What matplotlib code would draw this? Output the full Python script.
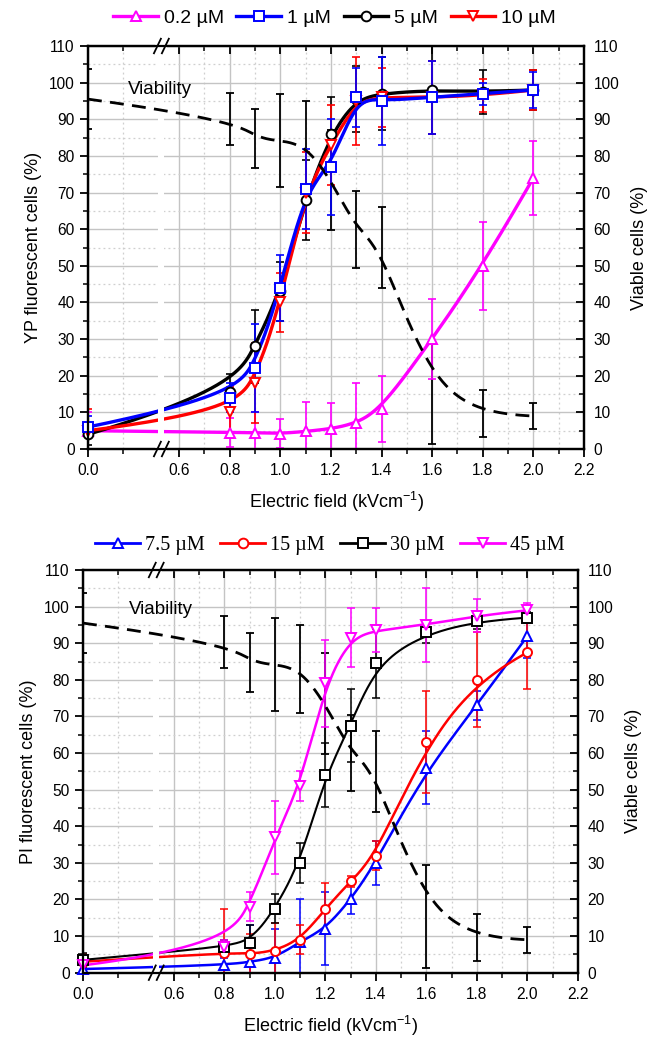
import numpy as np
import matplotlib
matplotlib.use("Agg")
import matplotlib.pyplot as plt
import matplotlib.lines as mlines
from matplotlib.ticker import FixedLocator, FixedFormatter

plt.rcParams['font.family'] = ['Liberation Sans', 'DejaVu Sans']
plt.rcParams['mathtext.default'] = 'regular'

# ---------------- data ----------------
field = [0.0, 0.8, 0.9, 1.0, 1.1, 1.2, 1.3, 1.4, 1.6, 1.8, 2.0]

# viability (same in both panels): mean and error-bar half widths
viab_mean = [95.5, 90.2, 84.8, 84.2, 82.9, 73.5, 60.0, 55.0, 15.4, 9.6, 9.0]
viab_err = [8.1, 7.1, 8.0, 12.6, 12.0, 13.7, 10.5, 11.0, 14.1, 6.4, 3.6]

# top panel: YP
yp_labels = ['0.2 µM', '1 µM', '5 µM', '10 µM']
yp_02 = [5.0, 4.5, 4.5, 4.2, 4.8, 5.5, 7.0, 11.0, 30.0, 50.0, 74.0]
yp_02_err = [5.0, 4.0, 5.5, 4.0, 8.0, 7.0, 11.0, 9.0, 11.0, 12.0, 10.0]
yp_1 = [6.0, 14.0, 22.0, 44.0, 71.0, 77.0, 96.0, 95.0, 96.0, 97.0, 98.0]
yp_1_err = [3.0, 4.0, 12.0, 9.0, 11.0, 13.0, 8.0, 12.0, 10.0, 3.0, 5.0]
yp_5 = [4.0, 15.5, 28.0, 43.0, 68.0, 86.0, 95.5, 97.0, 98.0, 97.5, 98.0]
yp_5_err = [3.0, 5.0, 10.0, 8.0, 11.0, 10.0, 9.0, 10.0, 12.0, 6.0, 5.5]
yp_10 = [5.0, 10.0, 18.0, 40.0, 70.0, 83.0, 95.0, 96.0, 96.0, 96.5, 98.0]
yp_10_err = [6.0, 7.0, 11.0, 8.0, 11.0, 11.0, 12.0, 8.0, 10.0, 4.5, 5.5]

# bottom panel: PI
pi_labels = ['7.5 µM', '15 µM', '30 µM', '45 µM']
pi_75 = [1.0, 2.0, 3.0, 4.0, 8.5, 12.0, 20.0, 30.0, 56.0, 73.0, 92.0]
pi_75_err = [3.0, 2.0, 10.0, 8.0, 11.5, 10.0, 4.0, 6.0, 10.0, 4.0, 6.0]
pi_15 = [3.0, 5.5, 5.0, 6.0, 9.0, 17.5, 25.0, 32.0, 63.0, 80.0, 87.5]
pi_15_err = [2.0, 12.0, 5.5, 7.5, 4.0, 7.0, 1.5, 4.0, 14.0, 13.0, 10.0]
pi_30 = [3.5, 7.0, 8.0, 17.5, 30.0, 54.0, 67.5, 84.5, 93.0, 96.0, 97.0]
pi_30_err = [2.0, 2.0, 5.0, 4.0, 5.5, 8.7, 10.0, 9.5, 3.0, 2.0, 1.5]
pi_45 = [2.0, 7.0, 18.0, 37.0, 51.0, 79.0, 91.5, 93.5, 95.0, 97.5, 99.0]
pi_45_err = [2.0, 2.0, 4.0, 10.0, 4.0, 12.0, 8.0, 6.0, 10.0, 4.5, 2.0]

major_x = [0.0, 0.6, 0.8, 1.0, 1.2, 1.4, 1.6, 1.8, 2.0, 2.2]
major_x_labels = ['0.0', '0.6', '0.8', '1.0', '1.2', '1.4', '1.6', '1.8', '2.0', '2.2']
minor_x = [0.1, 0.7, 0.9, 1.1, 1.3, 1.5, 1.7, 1.9, 2.1]

# ---------------- broken x scale ----------------
BK_X = [-1.0, 0.0, 0.2, 0.55, 3.0]
BK_U = [0.24 - 1.39, 0.24, 0.518, 0.55, 3.0]
U_MIN, U_MAX, U_BREAK = 0.24, 2.2, 0.53


def fwd(x):
    return np.interp(x, BK_X, BK_U)


def inv(u):
    return np.interp(u, BK_U, BK_X)


def bspline(px, py, n=600, k=3):
    """Clamped uniform cubic B-spline (Origin style connecting line)."""
    P = np.column_stack([px, py])
    m = len(P)
    knots = np.concatenate([[0.0] * k, np.linspace(0, 1, m - k + 1), [1.0] * k])
    t = np.linspace(0, 1, n)
    nk = len(knots)
    N = np.zeros((n, nk - 1))
    for i in range(nk - 1):
        N[:, i] = (knots[i] <= t) & (t < knots[i + 1])
    last = np.max(np.nonzero(knots[:-1] < knots[1:])[0])
    N[t >= knots[-1], last] = 1.0
    for d in range(1, k + 1):
        Nn = np.zeros((n, nk - 1 - d))
        for i in range(nk - 1 - d):
            a = knots[i + d] - knots[i]
            b = knots[i + d + 1] - knots[i + 1]
            term = np.zeros(n)
            if a > 0:
                term += (t - knots[i]) / a * N[:, i]
            if b > 0:
                term += (knots[i + d + 1] - t) / b * N[:, i + 1]
            Nn[:, i] = term
        N = Nn
    C = N @ P
    return C[:, 0], C[:, 1]


def smooth_line(ax, x, y, **kw):
    u = fwd(np.asarray(x, float))
    cu, cy = bspline(u, np.asarray(y, float))
    return ax.plot(inv(cu), cy, **kw)


TICK_FS = 11.2
LABEL_FS = 13


def setup(ax, ylabel):
    ax.set_xscale('function', functions=(fwd, inv))
    ax.set_xlim(0.0, 2.2)
    ax.set_ylim(0, 110)
    ax.xaxis.set_major_locator(FixedLocator(major_x))
    ax.xaxis.set_major_formatter(FixedFormatter(major_x_labels))
    ax.xaxis.set_minor_locator(FixedLocator(minor_x))
    ax.set_yticks(np.arange(0, 111, 10))
    ax.set_yticks(np.arange(5, 110, 10), minor=True)
    ax.grid(which='major', color='#c4c4c4', lw=1.0, zorder=0)
    ax.grid(which='minor', color='#cfcfcf', lw=0.9, ls=(0, (1.5, 2.5)), zorder=0)
    ax.set_axisbelow(True)
    ax.tick_params(axis='both', which='major', length=6, width=1.3, labelsize=TICK_FS)
    ax.tick_params(axis='both', which='minor', length=3.5, width=1.1)
    ax.tick_params(axis='x', which='both', direction='out', top=True, pad=4)
    ax.tick_params(axis='y', which='both', direction='out', right=False, pad=3.5)
    for t in ax.xaxis.get_major_ticks() + ax.xaxis.get_minor_ticks():
        t.tick2line.set_marker(mlines.TICKDOWN)
    for s in ax.spines.values():
        s.set_linewidth(1.6)
    ax.set_ylabel(ylabel, fontsize=LABEL_FS, labelpad=5)
    ax.set_xlabel('Electric field (kVcm$^{-1}$)', fontsize=LABEL_FS, labelpad=9)
    ax2 = ax.twinx()
    ax2.set_ylim(0, 110)
    ax2.set_yticks(np.arange(0, 111, 10))
    ax2.set_yticks(np.arange(5, 110, 10), minor=True)
    ax2.tick_params(axis='y', which='major', direction='in', length=6, width=1.3,
                    labelsize=TICK_FS, pad=7)
    ax2.tick_params(axis='y', which='minor', direction='in', length=3.5, width=1.1)
    ax2.set_ylabel('Viable cells (%)', fontsize=LABEL_FS, labelpad=8)
    for s in ax2.spines.values():
        s.set_linewidth(1.6)
    # break marks
    xb = (U_BREAK - U_MIN) / (U_MAX - U_MIN)
    ax.axvspan(inv(U_BREAK - 0.012), inv(U_BREAK + 0.012), color='white', lw=0, zorder=3.6)
    for yb in (0.0, 1.0):
        ax.plot([xb - 0.012, xb + 0.012], [yb, yb], transform=ax.transAxes, color='white',
                lw=3, clip_on=False, zorder=10, solid_capstyle='butt')
        for dx in (-0.008, 0.008):
            ax.plot([xb + dx - 0.007, xb + dx + 0.007], [yb - 0.018, yb + 0.018],
                    transform=ax.transAxes, color='black', lw=1.3, clip_on=False, zorder=11)
    # viability
    ax.errorbar(field, viab_mean, yerr=viab_err, fmt='none', ecolor='black', elinewidth=1.3,
                capsize=2.8, capthick=1.3, zorder=2)
    smooth_line(ax, field, viab_mean, color='black', lw=2.0, ls=(0, (5, 3)), zorder=3.7)
    return ax2


def draw_series(ax, y, err, color, marker, lw, ms, elw):
    ax.errorbar(field, y, yerr=err, fmt='none', ecolor=color, elinewidth=elw,
                capsize=2.8, capthick=elw, zorder=3)
    smooth_line(ax, field, y, color=color, lw=lw, zorder=3.2)
    ax.plot(field, y, ls='none', marker=marker, ms=ms, mfc='white', mec=color, mew=1.4,
            zorder=4, clip_on=False)


fig = plt.figure(figsize=(6.56, 10.39), dpi=100)
ax_t = fig.add_axes([88 / 656, 1 - 449 / 1039, 496 / 656, 403 / 1039])
ax_b = fig.add_axes([83 / 656, 1 - 972.7 / 1039, 495 / 656, 402.7 / 1039])

setup(ax_t, 'YP fluorescent cells (%)')
setup(ax_b, 'PI fluorescent cells (%)')

ax_t.text(0.081, 0.892, 'Viability', transform=ax_t.transAxes, fontsize=13.5, va='center', zorder=6)
ax_b.text(0.093, 0.903, 'Viability', transform=ax_b.transAxes, fontsize=13.5, va='center', zorder=6)

# top series
top_specs = [(yp_02, yp_02_err, '#ff00ff', '^'), (yp_5, yp_5_err, 'black', 'o'),
             (yp_10, yp_10_err, '#ff0000', 'v'), (yp_1, yp_1_err, '#0000ff', 's')]
for y, e, c, m in top_specs:
    draw_series(ax_t, y, e, c, m, lw=2.4, ms=7, elw=1.2)

bot_specs = [(pi_75, pi_75_err, '#0000ff', '^'), (pi_15, pi_15_err, '#ff0000', 'o'),
             (pi_30, pi_30_err, 'black', 's'), (pi_45, pi_45_err, '#ff00ff', 'v')]
for y, e, c, m in bot_specs:
    draw_series(ax_b, y, e, c, m, lw=1.8 if c != 'black' else 1.5, ms=6.5, elw=1.1)


# legends
def handle(color, marker, lw):
    return mlines.Line2D([], [], color=color, lw=lw, marker=marker, ms=7, mfc='white',
                         mec=color, mew=1.4)


top_h = [handle('#ff00ff', '^', 2.4), handle('#0000ff', 's', 2.4),
         handle('black', 'o', 2.4), handle('#ff0000', 'v', 2.4)]
fig.legend(top_h, yp_labels, loc='center', bbox_to_anchor=(0.51, 1 - 18 / 1039), ncol=4,
           frameon=False, fontsize=14, handlelength=2.3, handletextpad=0.3,
           columnspacing=0.65, borderaxespad=0, borderpad=0)

bot_h = [handle('#0000ff', '^', 2.0), handle('#ff0000', 'o', 2.0),
         handle('black', 's', 2.0), handle('#ff00ff', 'v', 2.0)]
fig.legend(bot_h, pi_labels, loc='center', bbox_to_anchor=(0.503, 1 - 545 / 1039), ncol=4,
           frameon=False, prop={'family': 'Liberation Serif', 'size': 14.5},
           handlelength=2.25, handletextpad=0.25, columnspacing=0.75, borderaxespad=0,
           borderpad=0)

fig.savefig('out.png', dpi=100, facecolor='white')
